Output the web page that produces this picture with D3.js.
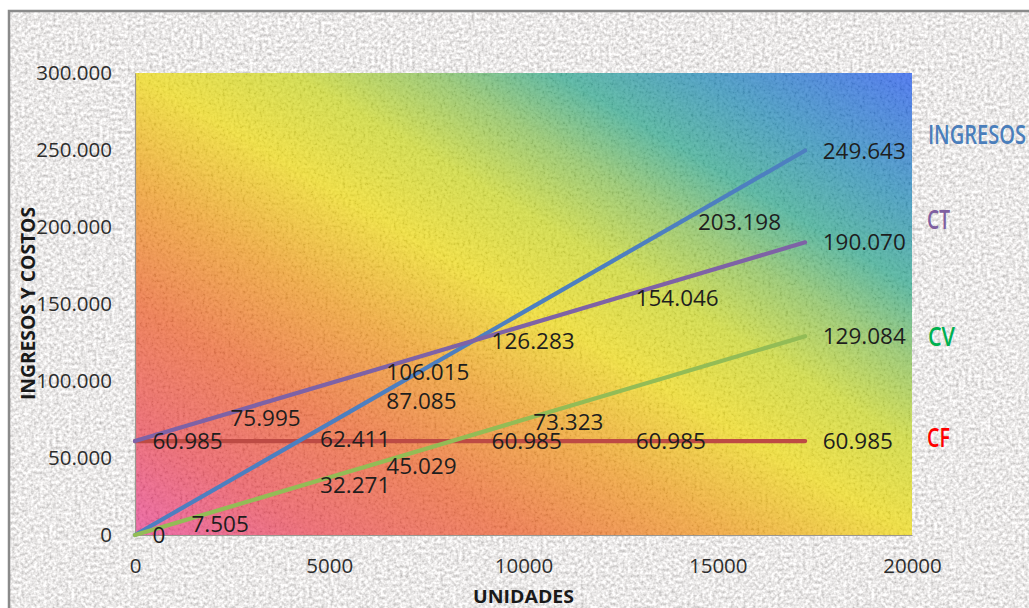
<!DOCTYPE html>
<html>
<head>
<meta charset="utf-8">
<script src="https://cdn.jsdelivr.net/npm/d3@7"></script>
<style>
  html, body { margin: 0; padding: 0; background: #ffffff; }
  svg { display: block; }
</style>
</head>
<body>
<svg id="chart" width="1029" height="608"></svg>
<script>
// Break-even chart: revenue, total cost, variable cost and fixed cost vs. units
const seriesNames = ["INGRESOS", "CT", "CV", "CF"];

const ingresosUnits   = [0, 4313, 6018, 8727, 14041, 17250];
const ingresosValues  = [0, 62411, 87085, 126283, 203198, 249643];
const ingresosLabeled = [true, true, true, true, true, true];

const ctUnits   = [0, 2006, 6018, 8727, 12436, 17250];
const ctValues  = [60985, 75995, 106015, 126283, 154046, 190070];
const ctLabeled = [false, true, true, false, true, true];

const cvUnits   = [0, 1003, 4313, 6018, 9799, 17250];
const cvValues  = [0, 7505, 32271, 45029, 73323, 129084];
const cvLabeled = [false, true, true, true, true, true];

const cfUnits   = [0, 8727, 12436, 17250];
const cfValues  = [60985, 60985, 60985, 60985];
const cfLabeled = [true, true, true, true];

const xTicks = [0, 5000, 10000, 15000, 20000];
const yTicks = [0, 50000, 100000, 150000, 200000, 250000, 300000];

const xTitle = "UNIDADES";
const yTitle = "INGRESOS Y COSTOS";

// ---- layout ----
const svg = d3.select("#chart");
const plot = { left: 135, right: 912, top: 73, bottom: 535 };
const FONT = "'Open Sans', 'DejaVu Sans', sans-serif";

const x = d3.scaleLinear().domain([0, 20000]).range([plot.left, plot.right]);
const y = d3.scaleLinear().domain([0, 300000]).range([plot.bottom, plot.top]);

const es = d3.formatLocale({ decimal: ",", thousands: ".", grouping: [3], currency: ["", ""] });
const fmtVal = es.format(",d");
const fmtUnits = d3.format("d");

const defs = svg.append("defs");

// granite-like paper texture for the frame
const granite = defs.append("filter").attr("id", "granite")
  .attr("x", 0).attr("y", 0).attr("width", 1).attr("height", 1);
granite.append("feTurbulence").attr("type", "fractalNoise")
  .attr("baseFrequency", 0.32).attr("numOctaves", 2).attr("seed", 11);
granite.append("feColorMatrix").attr("type", "matrix")
  .attr("values", "0.85 0 0 0 0.405  0.85 0 0 0 0.39  0.85 0 0 0 0.385  0 0 0 0 1");

// fine grain laid over the plot gradient
const grain = defs.append("filter").attr("id", "grain")
  .attr("x", 0).attr("y", 0).attr("width", 1).attr("height", 1);
grain.append("feTurbulence").attr("type", "fractalNoise")
  .attr("baseFrequency", 0.35).attr("numOctaves", 2).attr("seed", 3);
grain.append("feColorMatrix").attr("type", "matrix")
  .attr("values", "2 0 0 0 -0.5  2 0 0 0 -0.5  2 0 0 0 -0.5  0 0 0 0 0.1");

// diagonal rainbow fill of the plot area
const grad = defs.append("linearGradient").attr("id", "plotFill")
  .attr("x1", 0).attr("y1", 1).attr("x2", 1).attr("y2", 0);
[
  [0.00, "#ee64a6"],
  [0.12, "#f06a72"],
  [0.25, "#f27e52"],
  [0.38, "#f4ac44"],
  [0.50, "#f3e23e"],
  [0.60, "#d6e04c"],
  [0.69, "#9ccc74"],
  [0.77, "#56b8a2"],
  [0.86, "#4aa0c4"],
  [1.00, "#4a76f2"]
].forEach(([o, c]) => grad.append("stop").attr("offset", o).attr("stop-color", c));

// frame
svg.append("rect").attr("x", 9).attr("y", 11).attr("width", 1040).attr("height", 620)
  .attr("fill", "#d6d2d0").attr("filter", "url(#granite)");
svg.append("rect").attr("x", 9).attr("y", 11).attr("width", 1040).attr("height", 620)
  .attr("fill", "none").attr("stroke", "#8a8a8a").attr("stroke-width", 2.5);

// plot area
svg.append("rect").attr("x", plot.left).attr("y", plot.top)
  .attr("width", plot.right - plot.left).attr("height", plot.bottom - plot.top)
  .attr("fill", "url(#plotFill)");
svg.append("rect").attr("x", plot.left).attr("y", plot.top)
  .attr("width", plot.right - plot.left).attr("height", plot.bottom - plot.top)
  .attr("fill", "#888").attr("filter", "url(#grain)");

// axes
const yAxis = svg.append("g").attr("transform", `translate(${plot.left},0)`)
  .call(d3.axisLeft(y).tickValues(yTicks).tickFormat(fmtVal).tickSize(0).tickSizeOuter(0).tickPadding(23));
const xAxis = svg.append("g").attr("transform", `translate(0,${plot.bottom})`)
  .call(d3.axisBottom(x).tickValues(xTicks).tickFormat(fmtUnits).tickSize(0).tickSizeOuter(0).tickPadding(23));
[xAxis, yAxis].forEach(g => {
  g.select(".domain").attr("stroke", "#9c9890").attr("stroke-width", 1.2);
  g.selectAll("text").attr("font-family", FONT).attr("font-size", 20.5).attr("fill", "#2e2e2e");
});

// axis titles
svg.append("text").attr("x", 523.5).attr("y", 603).attr("text-anchor", "middle")
  .attr("font-family", FONT).attr("font-weight", 700).attr("font-size", 18.5)
  .attr("fill", "#1a1a1a").attr("textLength", 101).attr("lengthAdjust", "spacingAndGlyphs")
  .text(xTitle);
svg.append("text").attr("transform", "translate(34.5,303.5) rotate(-90)")
  .attr("text-anchor", "middle")
  .attr("font-family", FONT).attr("font-weight", 700).attr("font-size", 19.5)
  .attr("fill", "#1a1a1a").attr("textLength", 193).attr("lengthAdjust", "spacingAndGlyphs")
  .text(yTitle);

// series
const series = [
  { name: seriesNames[3], units: cfUnits, values: cfValues, labeled: cfLabeled, line: "#bd4b44", text: "#ff0000" },
  { name: seriesNames[0], units: ingresosUnits, values: ingresosValues, labeled: ingresosLabeled, line: "#4d7fc0", text: "#4a7ebb" },
  { name: seriesNames[2], units: cvUnits, values: cvValues, labeled: cvLabeled, line: "#93bc56", text: "#00b050" },
  { name: seriesNames[1], units: ctUnits, values: ctValues, labeled: ctLabeled, line: "#7e62a6", text: "#7f5fa0" }
];

const line = d3.line().x(d => x(d.u)).y(d => y(d.v));
series.forEach(s => {
  s.points = s.units.map((u, i) => ({ u, v: s.values[i], show: s.labeled[i] }));
  svg.append("path").datum(s.points).attr("d", line)
    .attr("fill", "none").attr("stroke", s.line).attr("stroke-width", 4.2)
    .attr("stroke-linecap", "round").attr("stroke-linejoin", "round");
});

// data labels to the right of each point
series.forEach(s => {
  svg.append("g").selectAll("text").data(s.points.filter(p => p.show)).join("text")
    .attr("x", p => x(p.u) + 17.5).attr("y", p => y(p.v))
    .attr("dy", "0.36em")
    .attr("font-family", FONT).attr("font-size", 22.5).attr("fill", "#1e1e1e")
    .text(p => fmtVal(p.v));
});

// series names on the right
const nameBoxes = { "INGRESOS": [928, 134.5, 98], "CT": [927, 219, 23], "CV": [928, 336.5, 27], "CF": [927, 437.5, 23] };
series.forEach(s => {
  const [bx, by, bw] = nameBoxes[s.name];
  svg.append("text").attr("x", bx).attr("y", by).attr("dy", "0.36em")
    .attr("font-family", FONT).attr("font-weight", 600).attr("font-size", 26.5).attr("fill", s.text)
    .attr("textLength", bw).attr("lengthAdjust", "spacingAndGlyphs")
    .text(s.name);
});
</script>
</body>
</html>
